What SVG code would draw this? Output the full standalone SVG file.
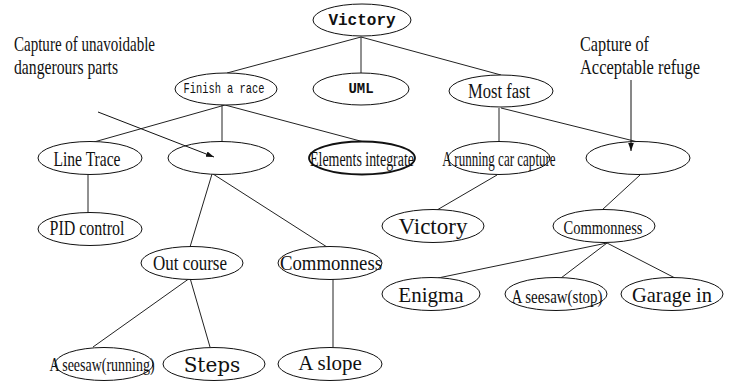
<svg xmlns="http://www.w3.org/2000/svg" width="736" height="383" viewBox="0 0 736 383">
  <defs>
    <marker id="arrow" viewBox="0 0 10 10" refX="10" refY="5" markerWidth="8" markerHeight="8" orient="auto" markerUnits="userSpaceOnUse">
      <path d="M0,1.5 L10,5 L0,8.5 z" fill="#111"/>
    </marker>
    <style>
      .node ellipse { fill: #fff; stroke: #111; stroke-width: 1; }
      .node ellipse.heavy { stroke-width: 1.8; }
      .edges line { stroke: #222; stroke-width: 1; }
      .pointers line { stroke: #111; stroke-width: 1; marker-end: url(#arrow); }
      text { fill: #111; text-anchor: middle; }
      .serif { font-family: "Liberation Serif", "Times New Roman", serif; }
      .mono { font-family: "Liberation Mono", "Courier New", monospace; }
      .wide { font-family: "DejaVu Serif", serif; }
      .note { font-family: "Liberation Serif", "Times New Roman", serif; font-size: 21px; text-anchor: start; }
    </style>
  </defs>

  <rect width="736" height="383" fill="#fff"/>

  <!-- tree connectors -->
  <g id="edges" class="edges">
    <line x1="361" y1="37" x2="227" y2="73"/>
    <line x1="361" y1="37" x2="361" y2="73"/>
    <line x1="361" y1="37" x2="501" y2="75"/>
    <line x1="225" y1="105" x2="94" y2="142"/>
    <line x1="222" y1="105" x2="222" y2="142"/>
    <line x1="225" y1="105" x2="364" y2="142"/>
    <line x1="499" y1="108" x2="499" y2="142"/>
    <line x1="501" y1="108" x2="638" y2="142"/>
    <line x1="88" y1="175" x2="88" y2="213"/>
    <line x1="212" y1="174" x2="190" y2="247"/>
    <line x1="213" y1="174" x2="327" y2="247"/>
    <line x1="497" y1="175" x2="437" y2="210"/>
    <line x1="640" y1="175" x2="602" y2="210"/>
    <line x1="190" y1="278" x2="93" y2="347"/>
    <line x1="190" y1="278" x2="210" y2="347"/>
    <line x1="333" y1="278" x2="333" y2="347"/>
    <line x1="607" y1="243" x2="438" y2="278"/>
    <line x1="607" y1="243" x2="561" y2="278"/>
    <line x1="607" y1="243" x2="675" y2="278"/>
  </g>

  <!-- annotations -->
  <g id="note-danger">
    <text class="note" x="14" y="51" textLength="141" lengthAdjust="spacingAndGlyphs">Capture of unavoidable</text>
    <text class="note" x="14" y="74" textLength="104" lengthAdjust="spacingAndGlyphs">dangerours parts</text>
  </g>
  <g id="note-refuge">
    <text class="note" x="580" y="51" textLength="69" lengthAdjust="spacingAndGlyphs">Capture of</text>
    <text class="note" x="580" y="74" textLength="120" lengthAdjust="spacingAndGlyphs">Acceptable refuge</text>
  </g>

  <!-- level 0 -->
  <g id="victory-root" class="node">
    <ellipse cx="362" cy="20" rx="49" ry="16"/>
    <text class="mono" x="362" y="25" font-size="16" font-weight="bold">Victory</text>
  </g>

  <!-- level 1 -->
  <g id="finish-race" class="node">
    <ellipse cx="226" cy="89" rx="51" ry="16"/>
    <text class="mono" x="224" y="93" font-size="15" textLength="81" lengthAdjust="spacingAndGlyphs">Finish a race</text>
  </g>
  <g id="uml" class="node">
    <ellipse cx="361" cy="89" rx="48" ry="16"/>
    <text class="mono" x="361" y="93" font-size="14" font-weight="bold">UML</text>
  </g>
  <g id="most-fast" class="node">
    <ellipse cx="501" cy="91" rx="52" ry="16"/>
    <text class="serif" x="499" y="98" font-size="20" textLength="62" lengthAdjust="spacingAndGlyphs">Most fast</text>
  </g>

  <!-- level 2 -->
  <g id="line-trace" class="node">
    <ellipse cx="90" cy="158" rx="52" ry="16.5"/>
    <text class="serif" x="87" y="166" font-size="21" textLength="67" lengthAdjust="spacingAndGlyphs">Line Trace</text>
  </g>
  <g id="danger-parts" class="node">
    <ellipse cx="221" cy="158" rx="53" ry="16.5"/>
  </g>
  <g id="elements-integrate" class="node">
    <ellipse class="heavy" cx="362" cy="158" rx="53" ry="16.5"/>
    <text class="serif" transform="translate(362,166) scale(0.696,1)" font-size="20">Elements integrate</text>
  </g>
  <g id="running-car" class="node">
    <ellipse cx="499" cy="158" rx="51" ry="16.5"/>
    <text class="serif" transform="translate(499,166) scale(0.652,1)" font-size="20">A running car capture</text>
  </g>
  <g id="refuge" class="node">
    <ellipse cx="638" cy="158" rx="52" ry="16.5"/>
  </g>

  <!-- level 3 -->
  <g id="pid-control" class="node">
    <ellipse cx="90" cy="229" rx="52" ry="16.5"/>
    <text class="serif" x="87" y="235" font-size="21" textLength="75" lengthAdjust="spacingAndGlyphs">PID control</text>
  </g>
  <g id="victory-leaf" class="node">
    <ellipse cx="433" cy="226" rx="51" ry="16.5"/>
    <text class="serif" x="433" y="234" font-size="23">Victory</text>
  </g>
  <g id="commonness-right" class="node">
    <ellipse cx="604" cy="226" rx="51" ry="16.5"/>
    <text class="serif" x="603" y="234" font-size="19" textLength="79" lengthAdjust="spacingAndGlyphs">Commonness</text>
  </g>
  <g id="out-course" class="node">
    <ellipse cx="192" cy="263" rx="51" ry="16.5"/>
    <text class="serif" x="190" y="270" font-size="21" textLength="74" lengthAdjust="spacingAndGlyphs">Out course</text>
  </g>
  <g id="commonness-left" class="node">
    <ellipse cx="330" cy="263" rx="52" ry="16.5"/>
    <text class="serif" x="331" y="270" font-size="21" textLength="102" lengthAdjust="spacingAndGlyphs">Commonness</text>
  </g>

  <!-- level 4 -->
  <g id="enigma" class="node">
    <ellipse cx="431" cy="294" rx="49" ry="16.5"/>
    <text class="serif" x="431" y="302" font-size="21">Enigma</text>
  </g>
  <g id="seesaw-stop" class="node">
    <ellipse cx="556" cy="294" rx="51" ry="16.5"/>
    <text class="serif" x="557" y="303" font-size="19" textLength="91" lengthAdjust="spacingAndGlyphs">A seesaw(stop)</text>
  </g>
  <g id="garage-in" class="node">
    <ellipse cx="672" cy="294" rx="51" ry="16.5"/>
    <text class="serif" x="672" y="302" font-size="21" textLength="80" lengthAdjust="spacingAndGlyphs">Garage in</text>
  </g>
  <g id="seesaw-running" class="node">
    <ellipse cx="104" cy="364" rx="49" ry="16.5"/>
    <text class="serif" transform="translate(102,371) scale(0.736,1)" font-size="19">A seesaw(running)</text>
  </g>
  <g id="steps" class="node">
    <ellipse cx="214" cy="364" rx="51" ry="16.5"/>
    <text class="wide" x="212" y="372" font-size="20">Steps</text>
  </g>
  <g id="slope" class="node">
    <ellipse cx="330" cy="364" rx="52" ry="16.5"/>
    <text class="serif" x="330" y="370" font-size="21">A slope</text>
  </g>

  <!-- annotation pointers, drawn over the nodes they point into -->
  <g id="pointers" class="pointers">
    <line x1="98" y1="112" x2="214" y2="157"/>
    <line x1="631" y1="80" x2="631" y2="151"/>
  </g>
</svg>
